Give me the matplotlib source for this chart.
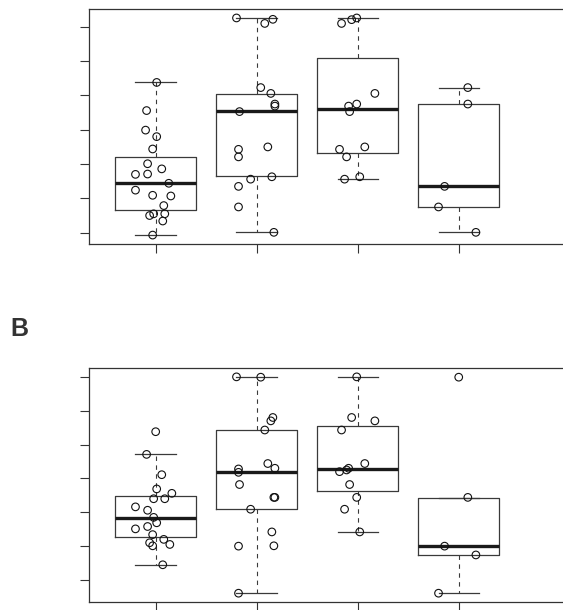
import matplotlib.pyplot as plt

# Resumen de las cajas: q1, mediana, q3, bigote inferior, bigote superior
q1_a = [0.66, 1.64, 2.31, 0.75]
med_a = [1.44, 3.54, 3.61, 1.35]
q3_a = [2.22, 4.05, 5.08, 3.75]
lo_a = [-0.07, 0.01, 1.56, 0.01]
hi_a = [4.38, 6.25, 6.25, 4.23]

q1_b = [1.26, 2.09, 2.63, 0.73]
med_b = [1.83, 3.20, 3.27, 0.99]
q3_b = [2.48, 4.42, 4.55, 2.43]
lo_b = [0.44, -0.39, 1.42, -0.39]
hi_b = [3.71, 6.00, 6.00, 2.43]

# Puntos individuales (valor y desplazamiento horizontal del jitter)
pts_a = [
    [4.38, 3.56, 2.99, 2.80, 2.44, 2.01, 1.86, 1.70, 1.71, 1.44, 1.24, 1.09, 1.07, 0.79, 0.55, 0.50, 0.55, 0.34, -0.07],
    [6.26, 6.22, 6.10, 4.23, 4.06, 3.75, 3.69, 3.53, 2.43, 2.21, 2.50, 1.56, 1.63, 1.35, 0.75, 0.01],
    [6.10, 6.21, 6.26, 4.06, 3.69, 3.75, 3.53, 2.43, 2.50, 2.21, 1.63, 1.56],
    [4.23, 3.75, 1.35, 0.75, 0.01],
]
jit_a = [
    [0.01, -0.09, -0.10, 0.01, -0.03, -0.08, 0.06, -0.20, -0.08, 0.13, -0.20, -0.03, 0.15, 0.08, -0.02, -0.06, 0.09, 0.07, -0.03],
    [-0.20, 0.16, 0.08, 0.04, 0.14, 0.18, 0.18, -0.17, -0.18, -0.18, 0.11, -0.06, 0.15, -0.18, -0.18, 0.17],
    [-0.16, -0.06, -0.01, 0.17, -0.09, -0.01, -0.08, -0.18, 0.07, -0.11, 0.02, -0.13],
    [0.09, 0.09, -0.14, -0.20, 0.17],
]

pts_b = [
    [4.38, 3.71, 3.11, 2.69, 2.56, 2.40, 2.40, 2.16, 2.06, 1.85, 1.69, 1.51, 1.58, 1.34, 1.20, 1.10, 1.01, 1.05, 0.45],
    [6.00, 5.99, 4.80, 4.70, 4.43, 3.28, 3.18, 3.44, 3.30, 2.82, 2.44, 2.44, 2.09, 1.42, 1.00, 1.01, -0.39],
    [6.00, 4.80, 4.70, 4.43, 3.44, 3.30, 3.25, 3.20, 2.82, 2.44, 2.09, 1.42],
    [5.99, 2.44, 1.00, 0.74, -0.39],
]
jit_b = [
    [0.00, -0.09, 0.06, 0.01, 0.16, -0.02, 0.09, -0.20, -0.08, -0.02, 0.01, -0.20, -0.08, -0.03, 0.08, -0.06, -0.03, 0.14, 0.07],
    [-0.20, 0.04, 0.16, 0.14, 0.08, -0.18, -0.18, 0.11, 0.18, -0.17, 0.18, 0.17, -0.06, 0.15, -0.18, 0.17, -0.18],
    [-0.01, -0.06, 0.17, -0.16, 0.07, -0.09, -0.11, -0.18, -0.08, -0.01, -0.13, 0.02],
    [0.00, 0.09, -0.14, 0.17, -0.20],
]

y_ticks = [0, 1, 2, 3, 4, 5, 6]
x_ticks = [1, 2, 3, 4]


def panel(ax, q1, med, q3, lo, hi, pts, jit, ylim):
    stats = []
    for i in range(4):
        stats.append(dict(q1=q1[i], med=med[i], q3=q3[i], whislo=lo[i], whishi=hi[i]))
    ax.bxp(stats, positions=x_ticks, widths=0.8, capwidths=0.4, showfliers=False,
           boxprops=dict(color='#3a3a3a', linewidth=0.9),
           medianprops=dict(color='#1a1a1a', linewidth=2.4, solid_capstyle='butt'),
           whiskerprops=dict(color='#3a3a3a', linewidth=0.8, linestyle=(0, (4, 4))),
           capprops=dict(color='#3a3a3a', linewidth=0.9))
    for i in range(4):
        xs = [x_ticks[i] + d for d in jit[i]]
        ax.scatter(xs, pts[i], s=30, facecolors='none', edgecolors='#111111',
                   linewidths=0.8, zorder=3)
    ax.set_xlim(0.34, 5.2)
    ax.set_ylim(*ylim)
    ax.set_xticks(x_ticks)
    ax.set_yticks(y_ticks)
    ax.tick_params(direction='out', length=6.5, width=0.8, color='#333333',
                   labelleft=False, labelbottom=False)
    for s in ax.spines.values():
        s.set_color('#333333')
        s.set_linewidth(0.9)
    ax.spines['right'].set_visible(False)


fig = plt.figure(figsize=(5.63, 6.10), dpi=100)
ax1 = fig.add_axes([0.1581, 0.6, 0.872, 0.3852])
ax2 = fig.add_axes([0.1581, 0.0131, 0.872, 0.3841])

panel(ax1, q1_a, med_a, q3_a, lo_a, hi_a, pts_a, jit_a, (-0.33, 6.52))
panel(ax2, q1_b, med_b, q3_b, lo_b, hi_b, pts_b, jit_b, (-0.65, 6.27))

fig.text(0.018, 0.46, 'B', fontsize=18, fontweight='bold', color='#333333',
         family='Liberation Sans', va='center', ha='left')

fig.savefig('out.png', dpi=100)
